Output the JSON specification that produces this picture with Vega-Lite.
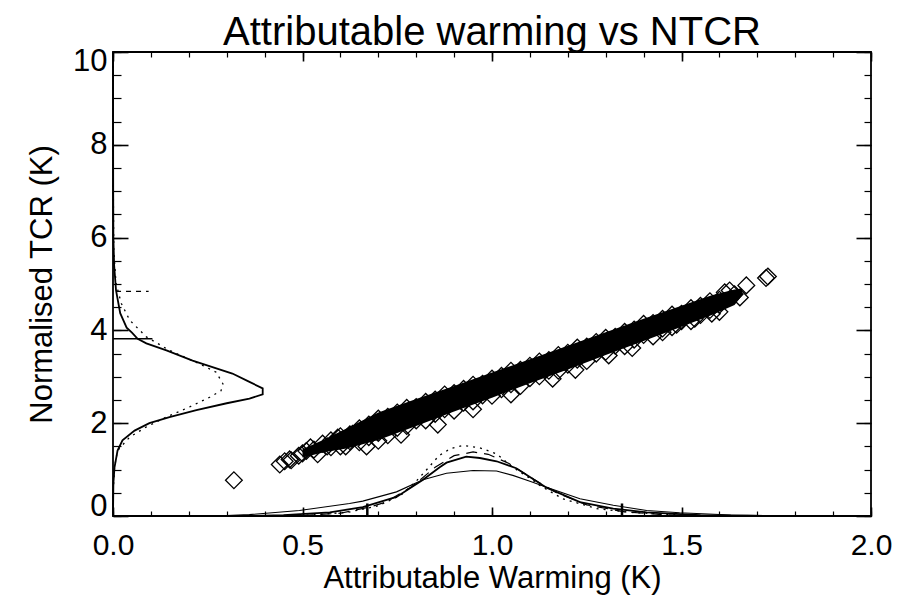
{
  "$schema": "https://vega.github.io/schema/vega-lite/v6.json",
  "autosize": {"type": "none"},
  "padding": {"left": 113, "top": 52, "right": 40, "bottom": 79},
  "width": 758,
  "height": 464,
  "background": "white",
  "title": {"text": "Attributable warming vs NTCR", "font": "Liberation Sans", "fontSize": 40, "fontWeight": "normal", "color": "black", "anchor": "middle", "offset": 14, "dy": 22},
  "config": {
    "view": {"stroke": "black", "strokeWidth": 1.8},
    "axis": {"domain": false, "grid": false, "tickColor": "black", "tickWidth": 1.4, "labelColor": "black", "labelFont": "Liberation Sans", "labelFontSize": 30, "titleFont": "Liberation Sans", "titleFontSize": 31, "titleFontWeight": "normal", "titleColor": "black", "labelFlush": false, "labelOverlap": false, "labelBound": false}
  },
  "datasets": {
    "band": [
      {"w": 0.50, "lo": 1.26, "hi": 1.44}, {"w": 0.56, "lo": 1.38, "hi": 1.66}, {"w": 0.62, "lo": 1.46, "hi": 1.90},
      {"w": 0.70, "lo": 1.64, "hi": 2.23}, {"w": 0.80, "lo": 1.94, "hi": 2.52}, {"w": 0.90, "lo": 2.25, "hi": 2.80},
      {"w": 1.00, "lo": 2.55, "hi": 3.09}, {"w": 1.10, "lo": 2.86, "hi": 3.38}, {"w": 1.20, "lo": 3.16, "hi": 3.67},
      {"w": 1.30, "lo": 3.47, "hi": 3.96}, {"w": 1.40, "lo": 3.77, "hi": 4.25}, {"w": 1.50, "lo": 4.08, "hi": 4.53},
      {"w": 1.58, "lo": 4.33, "hi": 4.76}, {"w": 1.64, "lo": 4.55, "hi": 4.88}, {"w": 1.66, "lo": 4.75, "hi": 4.90}
    ],
    "pts": [
      {"w": 0.575, "t": 1.63}, {"w": 0.6, "t": 1.72}, {"w": 0.625, "t": 1.76}, {"w": 0.65, "t": 1.89}, {"w": 0.675, "t": 1.97},
      {"w": 0.7, "t": 2.10}, {"w": 0.725, "t": 2.14}, {"w": 0.75, "t": 2.23}, {"w": 0.775, "t": 2.33}, {"w": 0.8, "t": 2.35},
      {"w": 0.825, "t": 2.46}, {"w": 0.85, "t": 2.51}, {"w": 0.875, "t": 2.62}, {"w": 0.9, "t": 2.65}, {"w": 0.925, "t": 2.74},
      {"w": 0.95, "t": 2.83}, {"w": 0.975, "t": 2.85}, {"w": 1.0, "t": 2.96}, {"w": 1.025, "t": 3.02}, {"w": 1.05, "t": 3.13},
      {"w": 1.075, "t": 3.15}, {"w": 1.1, "t": 3.24}, {"w": 1.125, "t": 3.33}, {"w": 1.15, "t": 3.36}, {"w": 1.175, "t": 3.47},
      {"w": 1.2, "t": 3.52}, {"w": 1.225, "t": 3.63}, {"w": 1.25, "t": 3.65}, {"w": 1.275, "t": 3.75}, {"w": 1.3, "t": 3.84},
      {"w": 1.325, "t": 3.86}, {"w": 1.35, "t": 3.97}, {"w": 1.375, "t": 4.02}, {"w": 1.4, "t": 4.14}, {"w": 1.425, "t": 4.16},
      {"w": 1.45, "t": 4.25}, {"w": 1.475, "t": 4.34}, {"w": 1.5, "t": 4.36}, {"w": 1.525, "t": 4.48}, {"w": 1.55, "t": 4.53},
      {"w": 1.575, "t": 4.63}, {"w": 1.6, "t": 4.66},
      {"w": 0.575, "t": 1.48}, {"w": 0.6, "t": 1.50}, {"w": 0.625, "t": 1.61}, {"w": 0.65, "t": 1.59}, {"w": 0.675, "t": 1.70},
      {"w": 0.7, "t": 1.79}, {"w": 0.725, "t": 1.74}, {"w": 0.75, "t": 1.90}, {"w": 0.775, "t": 1.94}, {"w": 0.8, "t": 2.06},
      {"w": 0.825, "t": 2.06}, {"w": 0.85, "t": 2.20}, {"w": 0.875, "t": 2.30}, {"w": 0.9, "t": 2.27}, {"w": 0.925, "t": 2.44},
      {"w": 0.95, "t": 2.47}, {"w": 0.975, "t": 2.60}, {"w": 1.0, "t": 2.59}, {"w": 1.025, "t": 2.73}, {"w": 1.05, "t": 2.84},
      {"w": 1.075, "t": 2.80}, {"w": 1.1, "t": 2.97}, {"w": 1.125, "t": 3.01}, {"w": 1.15, "t": 3.13}, {"w": 1.175, "t": 3.13},
      {"w": 1.2, "t": 3.26}, {"w": 1.225, "t": 3.37}, {"w": 1.25, "t": 3.34}, {"w": 1.275, "t": 3.50}, {"w": 1.3, "t": 3.54},
      {"w": 1.325, "t": 3.67}, {"w": 1.35, "t": 3.66}, {"w": 1.375, "t": 3.80}, {"w": 1.4, "t": 3.90}, {"w": 1.425, "t": 3.87},
      {"w": 1.45, "t": 4.04}, {"w": 1.475, "t": 4.07}, {"w": 1.5, "t": 4.20}, {"w": 1.525, "t": 4.20}, {"w": 1.55, "t": 4.33},
      {"w": 1.575, "t": 4.44}, {"w": 1.6, "t": 4.40},
      {"w": 0.319, "t": 0.77}, {"w": 0.44, "t": 1.11}, {"w": 0.453, "t": 1.18}, {"w": 0.466, "t": 1.22}, {"w": 0.47, "t": 1.20},
      {"w": 0.49, "t": 1.30}, {"w": 0.5, "t": 1.35}, {"w": 0.51, "t": 1.40}, {"w": 0.521, "t": 1.48}, {"w": 0.53, "t": 1.43},
      {"w": 0.54, "t": 1.33}, {"w": 0.553, "t": 1.56}, {"w": 0.565, "t": 1.50}, {"w": 0.593, "t": 1.69}, {"w": 0.614, "t": 1.50},
      {"w": 0.632, "t": 1.77}, {"w": 0.669, "t": 1.50}, {"w": 0.70, "t": 1.62}, {"w": 0.76, "t": 1.75}, {"w": 0.857, "t": 1.97},
      {"w": 0.95, "t": 2.30}, {"w": 1.05, "t": 2.62}, {"w": 1.16, "t": 2.96}, {"w": 1.22, "t": 3.15}, {"w": 1.308, "t": 3.46},
      {"w": 1.37, "t": 3.62}, {"w": 1.45, "t": 3.96}, {"w": 1.487, "t": 4.12}, {"w": 1.535, "t": 4.25}, {"w": 1.58, "t": 4.36},
      {"w": 1.60, "t": 4.55}, {"w": 1.614, "t": 4.82}, {"w": 1.627, "t": 4.86}, {"w": 1.64, "t": 4.78}, {"w": 1.654, "t": 4.71},
      {"w": 1.671, "t": 4.97}, {"w": 1.723, "t": 5.13}, {"w": 1.728, "t": 5.16}
    ],
    "lcs": [
      {"i": 1, "d": 0, "t": 10}, {"i": 2, "d": 0.0005, "t": 7}, {"i": 3, "d": 0.001, "t": 6}, {"i": 4, "d": 0.003, "t": 5.4},
      {"i": 5, "d": 0.008, "t": 4.86}, {"i": 6, "d": 0.019, "t": 4.37}, {"i": 7, "d": 0.036, "t": 4.06}, {"i": 8, "d": 0.05, "t": 3.95},
      {"i": 9, "d": 0.065, "t": 3.82}, {"i": 10, "d": 0.088, "t": 3.72}, {"i": 11, "d": 0.141, "t": 3.57}, {"i": 12, "d": 0.21, "t": 3.35},
      {"i": 13, "d": 0.315, "t": 3.07}, {"i": 14, "d": 0.36, "t": 2.89}, {"i": 15, "d": 0.395, "t": 2.75}, {"i": 16, "d": 0.395, "t": 2.62},
      {"i": 17, "d": 0.36, "t": 2.53}, {"i": 18, "d": 0.30, "t": 2.43}, {"i": 19, "d": 0.22, "t": 2.28}, {"i": 20, "d": 0.149, "t": 2.13},
      {"i": 21, "d": 0.096, "t": 2.00}, {"i": 22, "d": 0.057, "t": 1.84}, {"i": 23, "d": 0.025, "t": 1.63}, {"i": 24, "d": 0.012, "t": 1.41},
      {"i": 25, "d": 0.004, "t": 1.05}, {"i": 26, "d": 0.001, "t": 0.70}, {"i": 27, "d": 0, "t": 0}
    ],
    "lcd": [
      {"i": 1, "d": 0, "t": 10}, {"i": 2, "d": 0.0008, "t": 7}, {"i": 3, "d": 0.002, "t": 5.72}, {"i": 4, "d": 0.008, "t": 5.01},
      {"i": 5, "d": 0.022, "t": 4.58}, {"i": 6, "d": 0.044, "t": 4.22}, {"i": 7, "d": 0.088, "t": 3.86}, {"i": 8, "d": 0.149, "t": 3.57},
      {"i": 9, "d": 0.228, "t": 3.28}, {"i": 10, "d": 0.272, "t": 3.10}, {"i": 11, "d": 0.29, "t": 2.85}, {"i": 12, "d": 0.285, "t": 2.70},
      {"i": 13, "d": 0.255, "t": 2.56}, {"i": 14, "d": 0.202, "t": 2.35}, {"i": 15, "d": 0.140, "t": 2.13}, {"i": 16, "d": 0.088, "t": 1.92},
      {"i": 17, "d": 0.044, "t": 1.70}, {"i": 18, "d": 0.012, "t": 1.41}, {"i": 19, "d": 0.004, "t": 1.05}, {"i": 20, "d": 0.0005, "t": 0.5},
      {"i": 21, "d": 0, "t": 0}
    ],
    "ba": [
      {"w": 0.2, "d": 0.0}, {"w": 0.30, "d": 0.01}, {"w": 0.36, "d": 0.03}, {"w": 0.492, "d": 0.12}, {"w": 0.624, "d": 0.27},
      {"w": 0.659, "d": 0.32}, {"w": 0.748, "d": 0.52}, {"w": 0.818, "d": 0.78}, {"w": 0.880, "d": 0.92}, {"w": 0.950, "d": 0.98},
      {"w": 1.012, "d": 0.97}, {"w": 1.055, "d": 0.875}, {"w": 1.10, "d": 0.75}, {"w": 1.144, "d": 0.62}, {"w": 1.232, "d": 0.37},
      {"w": 1.32, "d": 0.23}, {"w": 1.408, "d": 0.12}, {"w": 1.495, "d": 0.07}, {"w": 1.63, "d": 0.02}, {"w": 1.77, "d": 0.0}
    ],
    "bb": [
      {"w": 0.35, "d": 0.0}, {"w": 0.45, "d": 0.02}, {"w": 0.572, "d": 0.08}, {"w": 0.659, "d": 0.19}, {"w": 0.748, "d": 0.41},
      {"w": 0.818, "d": 0.78}, {"w": 0.862, "d": 1.05}, {"w": 0.880, "d": 1.15}, {"w": 0.932, "d": 1.28}, {"w": 0.968, "d": 1.25},
      {"w": 1.012, "d": 1.18}, {"w": 1.064, "d": 1.03}, {"w": 1.10, "d": 0.84}, {"w": 1.144, "d": 0.61}, {"w": 1.232, "d": 0.30},
      {"w": 1.32, "d": 0.16}, {"w": 1.408, "d": 0.08}, {"w": 1.55, "d": 0.02}, {"w": 1.75, "d": 0.0}
    ],
    "bc": [
      {"w": 0.4, "d": 0.0}, {"w": 0.5, "d": 0.01}, {"w": 0.62, "d": 0.08}, {"w": 0.70, "d": 0.22}, {"w": 0.76, "d": 0.45},
      {"w": 0.80, "d": 0.75}, {"w": 0.83, "d": 1.02}, {"w": 0.86, "d": 1.30}, {"w": 0.89, "d": 1.45}, {"w": 0.923, "d": 1.52},
      {"w": 0.968, "d": 1.47}, {"w": 1.012, "d": 1.34}, {"w": 1.055, "d": 1.05}, {"w": 1.108, "d": 0.77}, {"w": 1.126, "d": 0.66},
      {"w": 1.187, "d": 0.37}, {"w": 1.276, "d": 0.16}, {"w": 1.363, "d": 0.08}, {"w": 1.5, "d": 0.02}, {"w": 1.6, "d": 0.0}
    ],
    "bd": [
      {"w": 0.5, "d": 0.01}, {"w": 0.60, "d": 0.06}, {"w": 0.68, "d": 0.20}, {"w": 0.72, "d": 0.30}, {"w": 0.79, "d": 0.64},
      {"w": 0.85, "d": 1.05}, {"w": 0.90, "d": 1.30}, {"w": 0.95, "d": 1.38}, {"w": 0.99, "d": 1.33}, {"w": 1.045, "d": 1.13},
      {"w": 1.11, "d": 0.79}, {"w": 1.17, "d": 0.50}, {"w": 1.25, "d": 0.24}, {"w": 1.35, "d": 0.09}, {"w": 1.45, "d": 0.03},
      {"w": 1.55, "d": 0.0}
    ],
    "vr": [{"w": 0.671, "a": 0, "b": 0.27}, {"w": 1.343, "a": 0, "b": 0.27}],
    "hs": [{"t": 3.82, "a": 0, "b": 0.104}],
    "hd": [{"t": 4.84, "a": 0.008, "b": 0.094}]
  },
  "layer": [
    {
      "data": {"name": "band"},
      "mark": {"type": "area", "color": "black", "opacity": 1, "orient": "vertical"},
      "encoding": {
        "x": {"field": "w", "type": "quantitative", "scale": {"domain": [0, 2], "nice": false, "zero": false},
          "axis": {"orient": "bottom", "values": [0, 0.5, 1, 1.5, 2], "format": ".1f", "tickSize": -9, "tickWidth": 1.6, "labelPadding": 23, "title": "Attributable Warming (K)", "titlePadding": 3}},
        "y": {"field": "lo", "type": "quantitative", "scale": {"domain": [0, 10], "nice": false, "zero": false},
          "axis": {"orient": "left", "values": [0, 2, 4, 6, 8, 10], "format": "d", "tickSize": -15, "tickWidth": 1.6, "labelPadding": 21, "labelFontSize": 31,
            "labelOffset": {"condition": [{"test": "datum.value == 0", "value": -10}, {"test": "datum.value == 10", "value": 9}], "value": 0},
            "title": "Normalised TCR (K)", "titlePadding": 14}},
        "y2": {"field": "hi"}
      }
    },
    {
      "data": {"name": "pts"},
      "mark": {"type": "point", "shape": "diamond", "filled": false, "color": "black", "size": 280, "strokeWidth": 1.3, "opacity": 1},
      "encoding": {
        "x": {"field": "w", "type": "quantitative", "scale": {"domain": [0, 2], "nice": false, "zero": false},
          "axis": {"orient": "bottom", "values": [0, 0.1, 0.2, 0.3, 0.4, 0.5, 0.6, 0.7, 0.8, 0.9, 1, 1.1, 1.2, 1.3, 1.4, 1.5, 1.6, 1.7, 1.8, 1.9, 2], "tickSize": -5, "tickWidth": 1.2, "labels": false, "title": null}},
        "y": {"field": "t", "type": "quantitative", "scale": {"domain": [0, 10], "nice": false, "zero": false},
          "axis": {"orient": "left", "values": [0, 0.5, 1, 1.5, 2, 2.5, 3, 3.5, 4, 4.5, 5, 5.5, 6, 6.5, 7, 7.5, 8, 8.5, 9, 9.5, 10], "tickSize": -8, "tickWidth": 1.2, "labels": false, "title": null}}
      }
    },
    {
      "data": {"name": "lcs"},
      "mark": {"type": "line", "color": "black", "strokeWidth": 1.8},
      "encoding": {
        "x": {"field": "d", "type": "quantitative", "scale": {"domain": [0, 2], "nice": false, "zero": false},
          "axis": {"orient": "top", "values": [0, 0.5, 1, 1.5, 2], "tickSize": -9, "tickWidth": 1.6, "labels": false, "title": null}},
        "y": {"field": "t", "type": "quantitative", "scale": {"domain": [0, 10], "nice": false, "zero": false},
          "axis": {"orient": "right", "values": [0, 2, 4, 6, 8, 10], "tickSize": -15, "tickWidth": 1.6, "labels": false, "title": null}},
        "order": {"field": "i", "type": "quantitative"}
      }
    },
    {
      "data": {"name": "lcd"},
      "mark": {"type": "line", "color": "black", "strokeWidth": 1.3, "strokeDash": [2, 5]},
      "encoding": {
        "x": {"field": "d", "type": "quantitative", "scale": {"domain": [0, 2], "nice": false, "zero": false},
          "axis": {"orient": "top", "values": [0, 0.1, 0.2, 0.3, 0.4, 0.5, 0.6, 0.7, 0.8, 0.9, 1, 1.1, 1.2, 1.3, 1.4, 1.5, 1.6, 1.7, 1.8, 1.9, 2], "tickSize": -5, "tickWidth": 1.2, "labels": false, "title": null}},
        "y": {"field": "t", "type": "quantitative", "scale": {"domain": [0, 10], "nice": false, "zero": false},
          "axis": {"orient": "right", "values": [0, 0.5, 1, 1.5, 2, 2.5, 3, 3.5, 4, 4.5, 5, 5.5, 6, 6.5, 7, 7.5, 8, 8.5, 9, 9.5, 10], "tickSize": -7, "tickWidth": 1.2, "labels": false, "title": null}},
        "order": {"field": "i", "type": "quantitative"}
      }
    },
    {
      "data": {"name": "ba"},
      "mark": {"type": "line", "color": "black", "strokeWidth": 1.1},
      "encoding": {
        "x": {"field": "w", "type": "quantitative", "scale": {"domain": [0, 2], "nice": false, "zero": false}, "axis": null},
        "y": {"field": "d", "type": "quantitative", "scale": {"domain": [0, 10], "nice": false, "zero": false}, "axis": null}
      }
    },
    {
      "data": {"name": "bb"},
      "mark": {"type": "line", "color": "black", "strokeWidth": 1.8},
      "encoding": {
        "x": {"field": "w", "type": "quantitative", "scale": {"domain": [0, 2], "nice": false, "zero": false}, "axis": null},
        "y": {"field": "d", "type": "quantitative", "scale": {"domain": [0, 10], "nice": false, "zero": false}, "axis": null}
      }
    },
    {
      "data": {"name": "bc"},
      "mark": {"type": "line", "color": "black", "strokeWidth": 1.3, "strokeDash": [2, 5]},
      "encoding": {
        "x": {"field": "w", "type": "quantitative", "scale": {"domain": [0, 2], "nice": false, "zero": false}, "axis": null},
        "y": {"field": "d", "type": "quantitative", "scale": {"domain": [0, 10], "nice": false, "zero": false}, "axis": null}
      }
    },
    {
      "data": {"name": "bd"},
      "mark": {"type": "line", "color": "black", "strokeWidth": 1.2, "strokeDash": [11, 7]},
      "encoding": {
        "x": {"field": "w", "type": "quantitative", "scale": {"domain": [0, 2], "nice": false, "zero": false}, "axis": null},
        "y": {"field": "d", "type": "quantitative", "scale": {"domain": [0, 10], "nice": false, "zero": false}, "axis": null}
      }
    },
    {
      "data": {"name": "vr"},
      "mark": {"type": "rule", "color": "black", "strokeWidth": 2.5},
      "encoding": {
        "x": {"field": "w", "type": "quantitative", "scale": {"domain": [0, 2], "nice": false, "zero": false}, "axis": null},
        "y": {"field": "a", "type": "quantitative", "scale": {"domain": [0, 10], "nice": false, "zero": false}, "axis": null},
        "y2": {"field": "b"}
      }
    },
    {
      "data": {"name": "hs"},
      "mark": {"type": "rule", "color": "black", "strokeWidth": 1.4},
      "encoding": {
        "y": {"field": "t", "type": "quantitative", "scale": {"domain": [0, 10], "nice": false, "zero": false}, "axis": null},
        "x": {"field": "a", "type": "quantitative", "scale": {"domain": [0, 2], "nice": false, "zero": false}, "axis": null},
        "x2": {"field": "b"}
      }
    },
    {
      "data": {"name": "hd"},
      "mark": {"type": "rule", "color": "black", "strokeWidth": 1.2, "strokeDash": [5, 5]},
      "encoding": {
        "y": {"field": "t", "type": "quantitative", "scale": {"domain": [0, 10], "nice": false, "zero": false}, "axis": null},
        "x": {"field": "a", "type": "quantitative", "scale": {"domain": [0, 2], "nice": false, "zero": false}, "axis": null},
        "x2": {"field": "b"}
      }
    }
  ],
  "resolve": {"axis": {"x": "independent", "y": "independent"}}
}
